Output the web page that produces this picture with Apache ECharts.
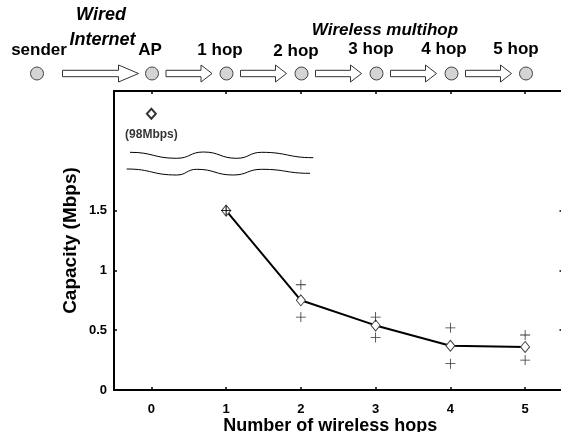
<!DOCTYPE html>
<html>
<head>
<meta charset="utf-8">
<script src="https://cdn.jsdelivr.net/npm/echarts@6/dist/echarts.min.js"></script>
<style>
html,body{margin:0;padding:0;background:#fff;}
#c{width:561px;height:432px;}
</style>
</head>
<body>
<div id="c"></div>
<script>
// ---- data ----
const hops = [1, 2, 3, 4, 5];
const capacity = [1.5, 0.75, 0.54, 0.37, 0.36];
const upperRuns = [1.5, 0.88, 0.61, 0.52, 0.46];
const lowerRuns = [1.5, 0.61, 0.44, 0.22, 0.25];
const wiredHop = [0];
const wiredCapacityShown = [2.31];
const wiredLabel = '(98Mbps)';
const xTicks = [0, 1, 2, 3, 4, 5];
const yTicks = [0, 0.5, 1, 1.5];
const nodeLabels = ['sender', 'AP', '1 hop', '2 hop', '3 hop', '4 hop', '5 hop'];

const FONT = '"Liberation Sans", Arial, sans-serif';
const chart = echarts.init(document.getElementById('c'), null, {renderer: 'canvas'});

// header (decorative diagram)
const nodeX = [37, 152, 226.5, 301.5, 376.5, 451.5, 526];
const labelX = [39, 150, 220, 296, 371, 444, 516];
const labelY = [50.5, 50.5, 50.5, 51.5, 49, 49, 49];
const cy = 73.5;
const graphic = [];
for (let i = 0; i < nodeX.length - 1; i++) {
  const sx = i === 0 ? 62.5 : nodeX[i] + 14;
  const bx = i === 0 ? 118.5 : nodeX[i] + 49;
  const tx = i === 0 ? 138.5 : nodeX[i] + 60;
  const bh = 3.2, hh = 8.5;
  graphic.push({
    type: 'polygon',
    shape: {points: [[sx, cy - bh], [bx, cy - bh], [bx, cy - hh], [tx, cy], [bx, cy + hh], [bx, cy + bh], [sx, cy + bh]]},
    style: {fill: '#fff', stroke: '#333', lineWidth: 1}
  });
}
nodeX.forEach((x) => {
  graphic.push({type: 'circle', shape: {cx: x, cy: cy, r: 6.5}, style: {fill: '#d4d4d4', stroke: '#444', lineWidth: 1}});
});
nodeLabels.forEach((t, i) => {
  graphic.push({type: 'text', x: labelX[i], y: labelY[i],
    style: {text: t, font: 'bold 17px ' + FONT, fill: '#000', align: 'center', verticalAlign: 'middle'}});
});
graphic.push({type: 'text', x: 101, y: 15, style: {text: 'Wired', font: 'italic bold 18px ' + FONT, fill: '#000', align: 'center', verticalAlign: 'middle'}});
graphic.push({type: 'text', x: 102.5, y: 40, style: {text: 'Internet', font: 'italic bold 18px ' + FONT, fill: '#000', align: 'center', verticalAlign: 'middle'}});
graphic.push({type: 'text', x: 385, y: 30, style: {text: 'Wireless multihop', font: 'italic bold 17px ' + FONT, fill: '#000', align: 'center', verticalAlign: 'middle'}});

// axis-break waves (decorative)
const waves = [
  [[130, 152.3], [176.7, 158.3], [203.3, 152], [236.7, 158.3], [261.7, 152.3], [313.3, 157.7]],
  [[126.7, 169], [176.7, 175], [196.7, 169.3], [233.3, 175], [261.7, 169.3], [310, 173.3]]
];
waves.forEach((w) => {
  for (let i = 0; i < w.length - 1; i++) {
    const [x1, y1] = w[i], [x2, y2] = w[i + 1];
    const mx = (x1 + x2) / 2;
    graphic.push({type: 'bezierCurve', shape: {x1, y1, x2, y2, cpx1: mx, cpy1: y1, cpx2: mx, cpy2: y2},
      style: {stroke: '#000', lineWidth: 1, fill: null}, z: 10});
  }
});

const axisLineStyle = {color: '#000', width: 2};
const tickStyle = {color: '#000', width: 1.5};
const plusPath = 'path://M0,4.6H10V5.4H0Z M4.6,0H5.4V10H4.6Z';

chart.setOption({
  animation: false,
  backgroundColor: '#fff',
  grid: {left: 114, right: -1.5, top: 91, bottom: 42, containLabel: false, outerBoundsMode: 'none'},
  xAxis: [{
    type: 'value', min: -0.5, max: 5.5, position: 'bottom',
    axisLine: {show: true, onZero: false, lineStyle: axisLineStyle},
    axisTick: {show: true, inside: true, length: 3, lineStyle: tickStyle, customValues: xTicks},
    axisLabel: {show: true, margin: 13, customValues: xTicks, color: '#000', fontWeight: 'bold', fontSize: 13, fontFamily: FONT},
    splitLine: {show: false},
    name: 'Number of wireless hops', nameLocation: 'middle', nameGap: 27, nameMoveOverlap: false,
    nameTextStyle: {color: '#000', fontWeight: 'bold', fontSize: 18, fontFamily: FONT, padding: [0, 16, 0, 0]}
  }, {
    type: 'value', min: -0.5, max: 5.5, position: 'top',
    axisLine: {show: true, onZero: false, lineStyle: axisLineStyle},
    axisTick: {show: true, inside: true, length: 3, lineStyle: tickStyle, customValues: xTicks},
    axisLabel: {show: false},
    splitLine: {show: false}
  }],
  yAxis: [{
    type: 'value', min: 0, max: 2.5, position: 'left',
    axisLine: {show: true, onZero: false, lineStyle: axisLineStyle},
    axisTick: {show: true, inside: true, length: 3, lineStyle: tickStyle, customValues: yTicks},
    axisLabel: {show: true, margin: 7, customValues: yTicks, color: '#000', fontWeight: 'bold', fontSize: 13, fontFamily: FONT},
    splitLine: {show: false},
    name: 'Capacity (Mbps)', nameLocation: 'middle', nameGap: 34, nameMoveOverlap: false,
    nameTextStyle: {color: '#000', fontWeight: 'bold', fontSize: 19, fontFamily: FONT}
  }, {
    type: 'value', min: 0, max: 2.5, position: 'right',
    axisLine: {show: true, onZero: false, lineStyle: axisLineStyle},
    axisTick: {show: true, inside: true, length: 3, lineStyle: tickStyle, customValues: [0.5, 1, 1.5]},
    axisLabel: {show: false},
    splitLine: {show: false}
  }],
  series: [{
    type: 'line',
    data: hops.map((h, i) => [h, capacity[i]]),
    symbol: 'diamond', symbolSize: [9, 11],
    itemStyle: {color: '#fff', borderColor: '#444', borderWidth: 1},
    lineStyle: {color: '#000', width: 2},
    z: 3
  }, {
    type: 'scatter',
    data: hops.map((h, i) => [h, upperRuns[i]]),
    symbol: plusPath, symbolSize: 10,
    itemStyle: {color: '#000'}, z: 4
  }, {
    type: 'scatter',
    data: hops.map((h, i) => [h, lowerRuns[i]]),
    symbol: plusPath, symbolSize: 10,
    itemStyle: {color: '#000'}, z: 4
  }, {
    type: 'scatter',
    data: wiredHop.map((h, i) => [h, wiredCapacityShown[i]]),
    symbol: 'diamond', symbolSize: [9, 10],
    itemStyle: {color: '#fff', borderColor: '#000', borderWidth: 2},
    label: {show: true, position: 'bottom', distance: 9, formatter: wiredLabel,
      color: '#000', fontWeight: 'bold', fontSize: 12, fontFamily: FONT},
    z: 4
  }],
  graphic: graphic
});
</script>
</body>
</html>
